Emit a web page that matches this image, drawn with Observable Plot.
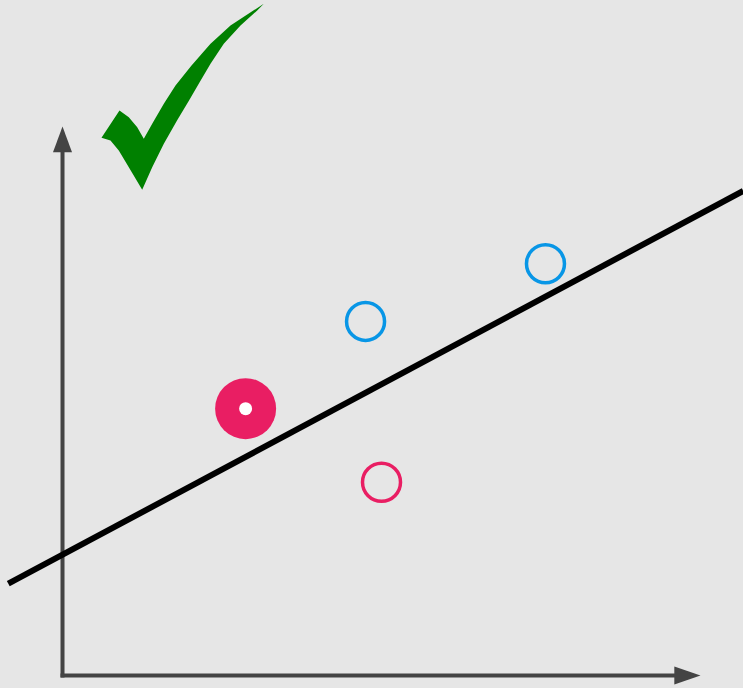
<!DOCTYPE html>
<html><head><meta charset="utf-8">
<script src="https://cdn.jsdelivr.net/npm/d3@7"></script>
<script src="https://cdn.jsdelivr.net/npm/@observablehq/plot@0.6"></script>
<style>html,body{margin:0;padding:0;background:#e6e6e6;overflow:hidden}</style>
</head><body><div id="chart"></div>
<script>
// ---- data (abstract units; axes origin at 0,0, arrow tips at 10) ----
const pointX = [2.87, 4.75, 7.57, 5.0];
const pointY = [4.86, 6.45, 7.50, 3.52];
const pointClass = ["class A", "class B", "class B", "class A"];
const pointSelected = [true, false, false, false];

const fitIntercept = 2.2;
const fitSlope = 0.621;
const fitRange = [-0.85, 10.67];

const xArrowHead = [[10, 0], [9.59, 0.164], [9.59, -0.164]];
const yArrowHead = [[0, 10], [0.149, 9.53], [-0.149, 9.53]];

const checkX = [0.611, 0.893, 1.039, 1.171, 1.274, 1.406, 1.588, 1.771, 2.022, 2.320, 2.633, 3.155,
                3.052, 2.790, 2.528, 2.320, 2.147, 1.983, 1.795, 1.588, 1.406, 1.249, 1.039, 0.882, 0.752];
const checkY = [9.794, 10.291, 10.169, 9.987, 9.776, 10.049, 10.413, 10.747, 11.111, 11.506, 11.840, 12.235,
                12.113, 11.840, 11.506, 11.142, 10.801, 10.474, 10.109, 9.685, 9.259, 8.847, 9.259, 9.563, 9.745];

// ---- build tables ----
const points = pointX.map((x, i) => ({x, y: pointY[i], cls: pointClass[i], sel: pointSelected[i]}));
const fitLine = fitRange.map(x => ({x, y: fitIntercept + fitSlope * x}));
const heads = [
  ...xArrowHead.map(([x, y]) => ({x, y, z: "xh"})),
  ...yArrowHead.map(([x, y]) => ({x, y, z: "yh"}))
];
const check = checkX.map((x, i) => ({x, y: checkY[i]}));

const pink = "#e91e63", blue = "#0896e6", axisColor = "#444444";

const chart = Plot.plot({
  width: 743, height: 688,
  margin: 0,
  style: {background: "#e6e6e6", overflow: "visible"},
  x: {domain: [-0.972, 10.674], axis: null},
  y: {domain: [-0.237, 12.295], axis: null},
  color: {type: "ordinal", domain: ["class A", "class B"], range: [pink, blue]},
  marks: [
    Plot.line([{x: 0, y: 0}, {x: 0, y: 9.6}], {x: "x", y: "y", stroke: axisColor, strokeWidth: 4, strokeLinecap: "square"}),
    Plot.line([{x: 0, y: 0}, {x: 9.65, y: 0}], {x: "x", y: "y", stroke: axisColor, strokeWidth: 4, strokeLinecap: "square"}),
    Plot.line(heads, {x: "x", y: "y", z: "z", fill: axisColor, stroke: "none", curve: "linear-closed"}),
    Plot.line(fitLine, {x: "x", y: "y", stroke: "black", strokeWidth: 6, strokeLinecap: "butt"}),
    Plot.dot(points.filter(d => d.sel), {x: "x", y: "y", r: 30.5, fill: "cls", stroke: "none"}),
    Plot.dot(points.filter(d => d.sel), {x: "x", y: "y", r: 6.5, fill: "white", stroke: "none"}),
    Plot.dot(points.filter(d => !d.sel), {x: "x", y: "y", r: 19, stroke: "cls", strokeWidth: 3.5, fill: "none"}),
    Plot.line(check, {x: "x", y: "y", fill: "#008000", stroke: "none", curve: "linear-closed"})
  ]
});
document.getElementById("chart").append(chart);
</script>
</body></html>
